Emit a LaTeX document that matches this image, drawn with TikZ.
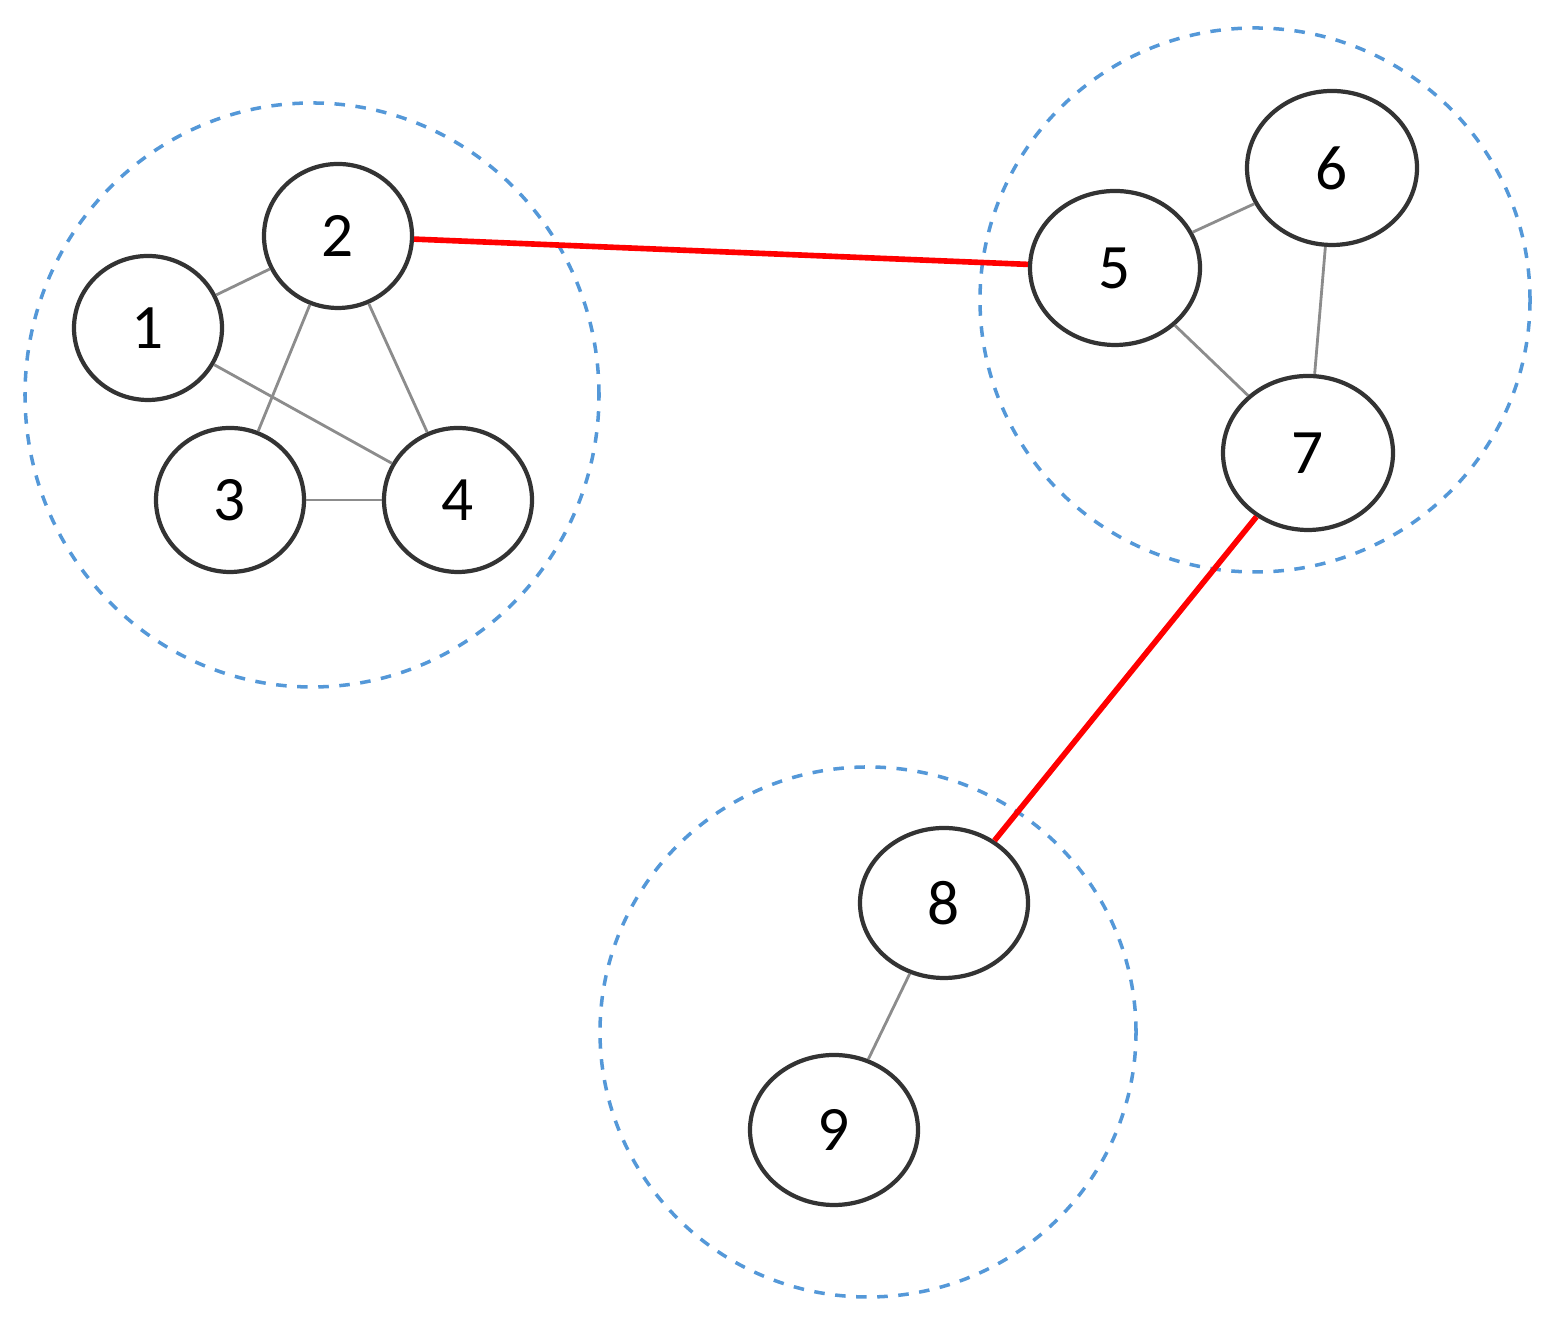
\documentclass[tikz,border=0pt]{standalone}
\usepackage{fontspec}
\setmainfont{Carlito}
\usepackage{tikz}
\usetikzlibrary{shapes.geometric,positioning}

\tikzset{
    vertex/.style = {ellipse, draw=black!80, line width=1.2pt, inner sep=0pt,
                     minimum width=1.48cm, minimum height=1.44cm,
                     font=\fontsize{18}{20}\selectfont},
    bigvertex/.style = {vertex, minimum width=1.7cm, minimum height=1.54cm},
    group/.style = {ellipse, draw=cyan!60!blue!70, dashed, line width=1pt, inner sep=0pt},
    link/.style = {draw=black!45, line width=0.8pt},
    bridge/.style = {draw=red, line width=1.6pt}
}

\begin{document}
\begin{tikzpicture}
    \useasboundingbox (0,0) rectangle (15.56,13.26);

    % communities
    \node[group, minimum width=5.74cm, minimum height=5.84cm] (ga) at (3.12,9.31) {};
    \node[group, minimum width=5.50cm, minimum height=5.44cm] (gb) at (12.55,10.26) {};
    \node[group, minimum width=5.36cm, minimum height=5.30cm] (gc) at (8.68,2.94) {};

    \node[vertex] (v1) at (1.48,9.98) {1};
    \node[vertex] (v2) at (3.38,10.90) {2};
    \node[vertex] (v3) at (2.30,8.26) {3};
    \node[vertex] (v4) at (4.58,8.26) {4};

    \node[bigvertex] (v5) at (11.15,10.58) {5};
    \node[bigvertex] (v6) at (13.32,11.58) {6};
    \node[bigvertex] (v7) at (13.08,8.73) {7};

    \node[bigvertex, minimum width=1.68cm, minimum height=1.5cm] (v8) at (9.44,4.23) {8};
    \node[bigvertex, minimum width=1.68cm, minimum height=1.5cm] (v9) at (8.34,1.96) {9};

    \draw[link] (v1) -- (v2);
    \draw[link] (v1) -- (v4);
    \draw[link] (v2) -- (v3);
    \draw[link] (v2) -- (v4);
    \draw[link] (v3) -- (v4);
    \draw[link] (v5) -- (v6);
    \draw[link] (v6) -- (v7);
    \draw[link] (v5) -- (v7);
    \draw[link] (v8) -- (v9);

    \draw[bridge] (v2) -- (v5);
    \draw[bridge] (v7) -- (v8);
\end{tikzpicture}
\end{document}
